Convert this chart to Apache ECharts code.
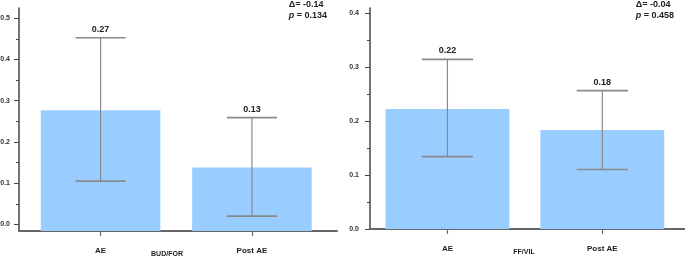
<!DOCTYPE html>
<html>
<head>
<meta charset="utf-8">
<script src="https://cdn.jsdelivr.net/npm/echarts@6/dist/echarts.min.js"></script>
<style>
  html, body { margin: 0; padding: 0; background: #fff; }
  #main { width: 685px; height: 256px; }
</style>
</head>
<body>
<div id="main"></div>
<script>
/* data */
var categories = ['AE', 'Post AE']

var budForMean = [0.277, 0.138]
var budForLow = [0.105, 0.020]
var budForHigh = [0.453, 0.259]
var budForLabels = ['0.27', '0.13']
var budForStats = ['-0.14', '0.134']

var ffVilMean = [0.222, 0.183]
var ffVilLow = [0.134, 0.110]
var ffVilHigh = [0.314, 0.256]
var ffVilLabels = ['0.22', '0.18']
var ffVilStats = ['-0.04', '0.458']

var budForTicks = [0, 0.1, 0.2, 0.3, 0.4, 0.5]
var budForMinor = [0.05, 0.15, 0.25, 0.35, 0.45]
var ffVilTicks = [0, 0.1, 0.2, 0.3, 0.4]
var ffVilMinor = [0.05, 0.15, 0.25, 0.35]

var FONT = '"Liberation Sans", Arial, sans-serif'
var BAR_COLOR = '#99ccff'
var ERR_COLOR = '#8a8a8a'

var chart = echarts.init(document.getElementById('main'))

/* bars drawn from the bottom of the y range so they sit on the x-axis line */
function barRender(yMin, widthUnits) {
  return function (params, api) {
    var x = api.value(0)
    var top = api.coord([x, api.value(1)])
    var base = api.coord([x, yMin])
    var w = api.size([widthUnits, 0])[0]
    return {
      type: 'rect',
      shape: { x: top[0] - w / 2, y: top[1], width: w, height: base[1] - top[1] },
      style: { fill: BAR_COLOR }
    }
  }
}

/* error bar with caps and the mean label above */
function errRender(labels, capUnits) {
  return function (params, api) {
    var x = api.value(0)
    var lo = api.coord([x, api.value(1)])
    var hi = api.coord([x, api.value(2)])
    var half = api.size([capUnits, 0])[0] / 2
    return {
      type: 'group',
      children: [
        { type: 'line', shape: { x1: lo[0], y1: lo[1], x2: hi[0], y2: hi[1] },
          style: { stroke: ERR_COLOR, lineWidth: 1.2 } },
        { type: 'line', shape: { x1: hi[0] - half, y1: hi[1], x2: hi[0] + half, y2: hi[1] },
          style: { stroke: ERR_COLOR, lineWidth: 1.6 } },
        { type: 'line', shape: { x1: lo[0] - half, y1: lo[1], x2: lo[0] + half, y2: lo[1] },
          style: { stroke: ERR_COLOR, lineWidth: 1.6 } },
        { type: 'text', x: hi[0], y: hi[1] - 4,
          style: { text: labels[params.dataIndex], fill: '#222', font: 'bold 9px ' + FONT,
            align: 'center', verticalAlign: 'bottom' } }
      ]
    }
  }
}

function xAxisCfg(gridIndex, min, max, name, namePad) {
  return {
    type: 'value', gridIndex: gridIndex, min: min, max: max,
    name: name, nameLocation: 'middle', nameGap: 20, nameMoveOverlap: false,
    nameTextStyle: { fontFamily: FONT, fontWeight: 'bold', fontSize: 7, color: '#222', padding: namePad },
    axisLine: { show: true, onZero: false, lineStyle: { color: '#666', width: 2 } },
    axisTick: { show: true, inside: false, length: 5, customValues: [0, 1], lineStyle: { color: '#666', width: 1.2 } },
    axisLabel: { customValues: [0, 1], margin: 16, fontFamily: FONT, fontWeight: 'bold', fontSize: 8, color: '#222',
      formatter: function (v) { return categories[Math.round(v)] } },
    splitLine: { show: false }
  }
}

function yAxisCfg(gridIndex, min, max, ticks, margin) {
  return {
    type: 'value', gridIndex: gridIndex, min: min, max: max, position: 'left',
    axisLine: { show: true, onZero: false, lineStyle: { color: '#444', width: 1.5 } },
    axisTick: { show: true, length: 5, customValues: ticks, lineStyle: { color: '#444', width: 1 } },
    axisLabel: { customValues: ticks, margin: margin, fontFamily: FONT, fontWeight: 'bold', fontSize: 7, color: '#333',
      formatter: function (v) { return v.toFixed(1) } },
    splitLine: { show: false }
  }
}

function minorAxisCfg(gridIndex, min, max, ticks) {
  return {
    type: 'value', gridIndex: gridIndex, min: min, max: max, position: 'left',
    axisLine: { show: false, onZero: false },
    axisTick: { show: true, length: 3, customValues: ticks, lineStyle: { color: '#444', width: 1 } },
    axisLabel: { show: false },
    splitLine: { show: false }
  }
}

function pack(a, b, c) {
  return categories.map(function (_, i) { return c ? [i, a[i], b[i], c[i]] : [i, a[i]] })
}

function statText(x, stats) {
  return {
    type: 'text', right: x, top: 0,
    style: {
      text: '{d|\u0394= ' + stats[0] + '}\n{p|p}{d| = ' + stats[1] + '}',
      align: 'right', fill: '#222',
      rich: {
        d: { fontFamily: FONT, fontWeight: 'bold', fontSize: 9, lineHeight: 11, fill: '#222' },
        p: { fontFamily: FONT, fontWeight: 'bold', fontStyle: 'italic', fontSize: 9, lineHeight: 11, fill: '#222' }
      }
    }
  }
}

var leftMin = -0.016
var option = {
  animation: false,
  grid: [
    { left: 19, right: 348, top: 8, bottom: 25, containLabel: false, outerBoundsMode: 'none' },
    { left: 370, right: 0, top: 8, bottom: 27, containLabel: false, outerBoundsMode: 'none' }
  ],
  xAxis: [
    xAxisCfg(0, -0.539, 1.562, 'BUD/FOR', [0, 22, 0, 0]),
    xAxisCfg(1, -0.5, 1.534, 'FF/VIL', [0, 7, 0, 0])
  ],
  yAxis: [
    yAxisCfg(0, leftMin, 0.525, budForTicks, 9),
    minorAxisCfg(0, leftMin, 0.525, budForMinor),
    yAxisCfg(1, 0, 0.409, ffVilTicks, 11),
    minorAxisCfg(1, 0, 0.409, ffVilMinor)
  ],
  graphic: [statText(358, budForStats), statText(11, ffVilStats)],
  series: [
    { type: 'custom', xAxisIndex: 0, yAxisIndex: 0, data: pack(budForMean),
      renderItem: barRender(leftMin, 0.79), encode: { x: 0, y: 1 } },
    { type: 'custom', xAxisIndex: 0, yAxisIndex: 0, data: pack(budForLow, budForHigh, budForMean),
      renderItem: errRender(budForLabels, 0.33), encode: { x: 0, y: [1, 2] }, z: 3 },
    { type: 'custom', xAxisIndex: 1, yAxisIndex: 2, data: pack(ffVilMean),
      renderItem: barRender(0, 0.8), encode: { x: 0, y: 1 } },
    { type: 'custom', xAxisIndex: 1, yAxisIndex: 2, data: pack(ffVilLow, ffVilHigh, ffVilMean),
      renderItem: errRender(ffVilLabels, 0.33), encode: { x: 0, y: [1, 2] }, z: 3 }
  ]
}
chart.setOption(option)
</script>
</body>
</html>
